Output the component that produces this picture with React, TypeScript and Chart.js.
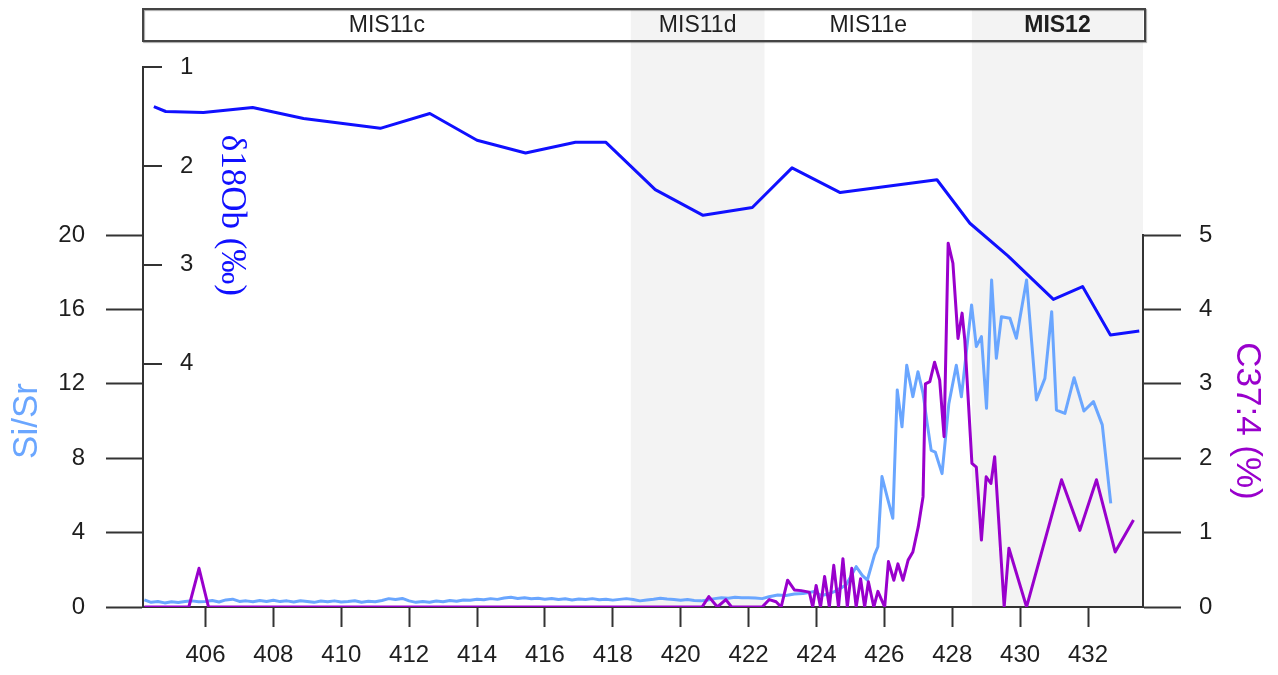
import { useEffect, useRef } from 'react';
import { Chart, registerables } from 'chart.js';

Chart.register(...registerables);

// ---------- data ----------
const xTicks = [406, 408, 410, 412, 414, 416, 418, 420, 422, 424, 426, 428, 430, 432];

const stageNames = ['MIS11c', 'MIS11d', 'MIS11e', 'MIS12'];
const stageBounds = [404.16, 418.53, 422.47, 428.58, 433.62];
const stageShaded = [false, true, false, true];
const stageBold = [false, false, false, true];

const d18oAge = [404.48, 404.83, 405.94, 407.39, 408.89, 411.15, 412.61, 414.0, 415.43, 416.9, 417.79, 419.25, 420.66, 422.11, 423.28, 424.7, 427.55, 428.52, 429.64, 430.98, 431.84, 432.66, 433.51];
const d18oVal = [1.40, 1.45, 1.46, 1.41, 1.52, 1.62, 1.47, 1.74, 1.87, 1.76, 1.76, 2.24, 2.50, 2.42, 2.02, 2.27, 2.14, 2.58, 2.91, 3.35, 3.22, 3.71, 3.67];

const sisrAge = [
  404.2, 404.4, 404.6, 404.8, 405.0, 405.2, 405.4, 405.6, 405.8, 406.0,
  406.2, 406.4, 406.6, 406.8, 407.0, 407.2, 407.4, 407.6, 407.8, 408.0,
  408.2, 408.4, 408.6, 408.8, 409.0, 409.2, 409.4, 409.6, 409.8, 410.0,
  410.2, 410.4, 410.6, 410.8, 411.0, 411.2, 411.4, 411.6, 411.8, 412.0,
  412.2, 412.4, 412.6, 412.8, 413.0, 413.2, 413.4, 413.6, 413.8, 414.0,
  414.2, 414.4, 414.6, 414.8, 415.0, 415.2, 415.4, 415.6, 415.8, 416.0,
  416.2, 416.4, 416.6, 416.8, 417.0, 417.2, 417.4, 417.6, 417.8, 418.0,
  418.2, 418.4, 418.6, 418.8, 419.0, 419.2, 419.4, 419.6, 419.8, 420.0,
  420.2, 420.4, 420.6, 420.8, 421.0, 421.2, 421.4, 421.6, 421.8, 422.0,
  422.2, 422.4, 422.6, 422.86, 423.1, 423.35, 423.6, 423.94, 424.14, 424.35,
  424.53, 424.7, 424.87, 425.0, 425.17, 425.35, 425.5, 425.71, 425.81, 425.93,
  426.1, 426.25, 426.38, 426.52, 426.66, 426.84, 426.99, 427.14, 427.26, 427.38,
  427.5, 427.7, 427.9, 428.12, 428.27, 428.57, 428.71, 428.86, 429.01, 429.16,
  429.3, 429.45, 429.7, 429.89, 430.19, 430.48, 430.73, 430.93, 431.07, 431.32,
  431.59, 431.88, 432.16, 432.42, 432.67,
];
const sisrVal = [
  0.38, 0.25, 0.30, 0.22, 0.28, 0.24, 0.30, 0.33, 0.28, 0.30,
  0.35, 0.27, 0.38, 0.42, 0.30, 0.33, 0.28, 0.35, 0.30, 0.36,
  0.29, 0.33, 0.27, 0.34, 0.30, 0.25, 0.32, 0.28, 0.33, 0.27,
  0.30, 0.34, 0.26, 0.31, 0.28, 0.35, 0.45, 0.40, 0.46, 0.33,
  0.25, 0.30, 0.26, 0.32, 0.28, 0.35, 0.31, 0.38, 0.36, 0.42,
  0.39, 0.45, 0.41, 0.48, 0.52, 0.46, 0.50, 0.44, 0.47, 0.42,
  0.46, 0.40, 0.44, 0.38, 0.43, 0.40, 0.45, 0.39, 0.42, 0.37,
  0.41, 0.45, 0.40, 0.33, 0.38, 0.42, 0.47, 0.43, 0.40, 0.36,
  0.40, 0.35, 0.33, 0.38, 0.45, 0.50, 0.47, 0.52, 0.50, 0.50,
  0.48, 0.45, 0.55, 0.65, 0.62, 0.70, 0.72, 0.83, 0.62, 0.70,
  0.83, 1.00, 1.18, 1.60, 2.17, 1.70, 1.45, 2.80, 3.24, 7.01,
  5.80, 4.77, 11.67, 9.69, 13.0, 11.31, 12.65, 11.49, 9.90, 8.42,
  8.33, 7.17, 10.93, 13.0, 11.3, 16.24, 14.0, 14.54, 10.68, 17.58,
  13.37, 15.61, 15.52, 14.45, 17.58, 11.13, 12.29, 15.88, 10.59, 10.41,
  12.33, 10.54, 11.04, 9.79, 5.57,
];

const c37Age = [
  404.2, 405.51, 405.81, 406.09, 420.63, 420.83, 421.08, 421.33, 421.5, 422.4,
  422.61, 422.81, 422.96, 423.15, 423.35, 423.55, 423.79, 423.89, 423.99, 424.12,
  424.24, 424.38, 424.51, 424.65, 424.78, 424.91, 425.04, 425.17, 425.3, 425.42,
  425.53, 425.69, 425.81, 426.01, 426.12, 426.28, 426.4, 426.55, 426.7, 426.84,
  427.0, 427.14, 427.21, 427.34, 427.48, 427.63, 427.76, 427.88, 428.02, 428.17,
  428.29, 428.37, 428.58, 428.71, 428.86, 429.0, 429.14, 429.25, 429.53, 429.67,
  430.19, 431.22, 431.76, 432.25, 432.8, 433.34,
];
const c37Val = [
  0, 0, 0.52, 0, 0, 0.14, 0, 0.10, 0, 0,
  0.10, 0.07, 0, 0.36, 0.23, 0.22, 0.20, 0, 0.29, 0,
  0.41, 0, 0.56, 0, 0.65, 0, 0.52, 0, 0.38, 0,
  0.34, 0, 0.21, 0, 0.61, 0.36, 0.58, 0.36, 0.63, 0.74,
  1.08, 1.48, 3.0, 3.03, 3.29, 3.05, 2.29, 4.89, 4.62, 3.61,
  3.95, 3.59, 1.93, 1.88, 0.90, 1.75, 1.66, 2.02, 0, 0.79,
  0, 1.71, 1.03, 1.71, 0.74, 1.17,
];

const siTickLabelStep = 4;

// ---------- styles ----------
const SANS = "'Liberation Sans', Arial, sans-serif";
const SERIF = "'Liberation Serif', 'Times New Roman', serif";
const AXIS = '#333333';
const TEXT = '#1e1e1e';
const C_D18O = '#1010ff';
const C_SISR = '#6aa6ff';
const C_C37 = '#9900cc';
const SHADE = '#f3f3f3';
const LINE_W = 3;

const pts = (xs: number[], ys: number[]) => xs.map((x, i) => ({ x, y: ys[i] }));

const misPlugin = {
  id: 'misBands',
  beforeDraw(chart: any) {
    const { ctx, chartArea } = chart;
    const xs = chart.scales.x;
    ctx.save();
    ctx.fillStyle = SHADE;
    for (let i = 0; i < stageNames.length; i++) {
      if (!stageShaded[i]) continue;
      const a = xs.getPixelForValue(stageBounds[i]);
      const b = xs.getPixelForValue(stageBounds[i + 1]);
      ctx.fillRect(a, 41, b - a, chartArea.bottom - 41);
    }
    ctx.restore();
  },
  afterDraw(chart: any) {
    const { ctx, chartArea } = chart;
    const xs = chart.scales.x;
    const top = 9;
    const h = 32;
    const left = chartArea.left;
    const right = chartArea.right + 2;
    ctx.save();
    ctx.fillStyle = '#ffffff';
    ctx.fillRect(left, top, right - left, h);
    for (let i = 0; i < stageNames.length; i++) {
      const a = xs.getPixelForValue(stageBounds[i]);
      const b = Math.min(xs.getPixelForValue(stageBounds[i + 1]), right);
      if (stageShaded[i]) {
        ctx.fillStyle = SHADE;
        ctx.fillRect(a, top, b - a, h);
      }
    }
    ctx.shadowColor = 'rgba(0,0,0,0.35)';
    ctx.shadowOffsetX = 1;
    ctx.shadowOffsetY = 1;
    ctx.shadowBlur = 1;
    ctx.strokeStyle = '#444444';
    ctx.lineWidth = 2;
    ctx.strokeRect(left, top, right - left, h);
    ctx.shadowColor = 'transparent';
    ctx.fillStyle = TEXT;
    ctx.textAlign = 'center';
    ctx.textBaseline = 'middle';
    for (let i = 0; i < stageNames.length; i++) {
      const a = xs.getPixelForValue(stageBounds[i]);
      const b = Math.min(xs.getPixelForValue(stageBounds[i + 1]), right);
      ctx.font = `${stageBold[i] ? 'bold ' : ''}23px ${SANS}`;
      ctx.fillText(stageNames[i], (a + b) / 2, top + h / 2 + 1);
    }
    // delta-18O axis title, read top to bottom
    const yO = chart.scales.yO;
    ctx.translate(chartArea.left + 88, (yO.top + yO.bottom) / 2);
    ctx.rotate(Math.PI / 2);
    ctx.fillStyle = C_D18O;
    ctx.font = `35px ${SERIF}`;
    ctx.fillText('δ18Ob (‰)', 0, 0);
    ctx.restore();
  },
};

export default function App() {
  const ref = useRef<HTMLCanvasElement | null>(null);

  useEffect(() => {
    document.body.style.margin = '0';
    const canvas = ref.current;
    if (!canvas) return;
    const tickFont = { family: SANS, size: 24 };
    const chart = new Chart(canvas, {
      type: 'line',
      data: {
        datasets: [
          {
            label: 'Si/Sr',
            data: pts(sisrAge, sisrVal),
            yAxisID: 'ySi',
            borderColor: C_SISR,
            borderWidth: LINE_W,
            pointRadius: 0,
            order: 3,
          },
          {
            label: 'C37:4',
            data: pts(c37Age, c37Val),
            yAxisID: 'yC',
            borderColor: C_C37,
            borderWidth: LINE_W,
            pointRadius: 0,
            order: 2,
          },
          {
            label: 'd18O',
            data: pts(d18oAge, d18oVal),
            yAxisID: 'yO',
            borderColor: C_D18O,
            borderWidth: LINE_W,
            pointRadius: 0,
            order: 1,
          },
        ],
      },
      options: {
        animation: false,
        responsive: false,
        layout: { padding: { top: 67, left: 0, right: 0, bottom: 0 } },
        plugins: { legend: { display: false }, tooltip: { enabled: false } },
        elements: { line: { tension: 0, borderJoinStyle: 'round' } },
        scales: {
          x: {
            type: 'linear',
            position: 'bottom',
            min: stageBounds[0],
            max: stageBounds[stageBounds.length - 1],
            afterFit: (s: any) => { s.height = 68; },
            afterBuildTicks: (s: any) => { s.ticks = xTicks.map((v) => ({ value: v })); },
            grid: { drawOnChartArea: false, drawTicks: true, tickLength: 20, tickColor: AXIS, tickWidth: 2 },
            border: { display: true, color: AXIS, width: 2 },
            ticks: { font: tickFont, color: TEXT, padding: 14, maxRotation: 0, autoSkip: false, callback: (v: any) => String(v) },
          },
          ySiPad: {
            type: 'linear', position: 'left', stack: 'L2', stackWeight: 168, weight: 5, display: false, min: 0, max: 1,
          },
          ySi: {
            type: 'linear',
            position: 'left',
            stack: 'L2',
            stackWeight: 372,
            weight: 4,
            min: 0,
            max: 20,
            afterFit: (s: any) => { s.width = 143; },
            ticks: {
              stepSize: 2,
              font: tickFont,
              color: TEXT,
              padding: 21,
              callback: (v: any) => (Number(v) % siTickLabelStep === 0 ? String(v) : ''),
            },
            grid: {
              drawOnChartArea: false,
              tickLength: 37,
              tickColor: AXIS,
              tickWidth: 2,
              tickBorderDash: (c: any) => (c.tick && c.tick.value % siTickLabelStep === 0 ? [] : [0, 19, 18]),
            },
            border: { display: true, color: AXIS, width: 2 },
            title: { display: true, text: 'Si/Sr', color: C_SISR, font: { family: SANS, size: 35 }, padding: { top: 6, bottom: 0 } },
          },
          yO: {
            type: 'linear',
            position: 'left',
            stack: 'L1',
            stackWeight: 296.7,
            weight: 3,
            reverse: true,
            min: 1,
            max: 4,
            afterFit: (s: any) => { s.width = 0; },
            ticks: { stepSize: 1, mirror: true, padding: 37, font: tickFont, color: TEXT },
            grid: { drawOnChartArea: true, drawTicks: false, color: AXIS, lineWidth: 2 },
            border: { display: true, color: AXIS, width: 2, dash: [18, 4000] },
          },
          yOPad: {
            type: 'linear', position: 'left', stack: 'L1', stackWeight: 243.3, weight: 2, display: false, min: 0, max: 1,
          },
          yCPad: {
            type: 'linear', position: 'right', stack: 'R', stackWeight: 168, weight: 1, display: false, min: 0, max: 1,
          },
          yC: {
            type: 'linear',
            position: 'right',
            stack: 'R',
            stackWeight: 372,
            weight: 2,
            min: 0,
            max: 5,
            afterFit: (s: any) => { s.width = 135; },
            ticks: {
              stepSize: 0.5,
              font: tickFont,
              color: TEXT,
              padding: 18,
              callback: (v: any) => (Number.isInteger(Number(v)) ? String(v) : ''),
            },
            grid: {
              drawOnChartArea: false,
              tickLength: 38,
              tickColor: AXIS,
              tickWidth: 2,
              tickBorderDash: (c: any) => (c.tick && Number.isInteger(c.tick.value) ? [] : [19, 100]),
            },
            border: { display: true, color: AXIS, width: 2 },
            title: { display: true, text: 'C37:4 (%)', color: C_C37, font: { family: SANS, size: 35 }, padding: { top: 10, bottom: 0 } },
          },
        },
      } as any,
      plugins: [misPlugin],
    });
    return () => chart.destroy();
  }, []);

  return (
    <div style={{ position: 'absolute', left: 0, top: 0, width: 1278, height: 675, background: '#ffffff' }}>
      <canvas ref={ref} width={1278} height={675} style={{ display: 'block' }} />
    </div>
  );
}
